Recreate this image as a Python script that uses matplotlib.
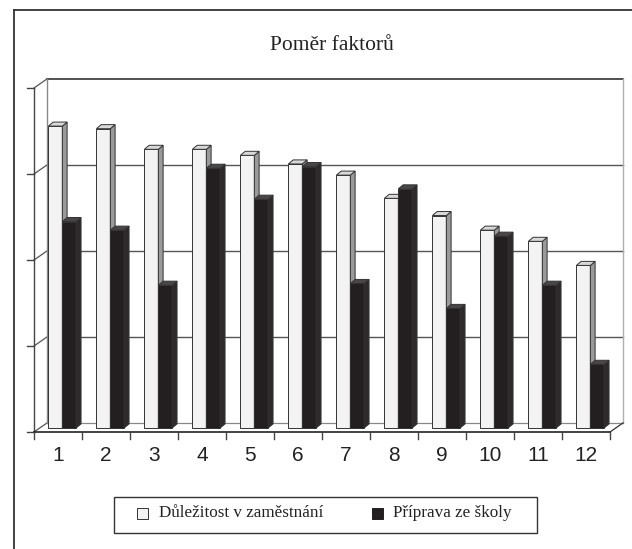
import numpy as np
import matplotlib
matplotlib.use("Agg")
import matplotlib.pyplot as plt
from matplotlib.patches import Polygon, Rectangle
from matplotlib.lines import Line2D

# Data
kategorie = ["1", "2", "3", "4", "5", "6", "7", "8", "9", "10", "11", "12"]
dulezitost = [3.51, 3.48, 3.24, 3.24, 3.17, 3.07, 2.94, 2.67, 2.47, 2.30, 2.17, 1.89]
priprava = [2.40, 2.30, 1.66, 3.02, 2.66, 3.04, 1.68, 2.78, 1.39, 2.23, 1.66, 0.74]
serie = ["Důležitost v zaměstnání", "Příprava ze školy"]

n = len(kategorie)
ymax = 4

# 3D look: wall depth, bar depth
WX, WY = 0.27, 0.105
BX, BY = 0.10, 0.047
bar_w = 0.29
bar_bottom = 0.047

W, H = 632, 549
fig = plt.figure(figsize=(W / 100, H / 100), dpi=100)
ax = fig.add_axes([24.4 / W, 1 - 466.4 / H, 604.8 / W, 395.6 / H])
ax.set_xlim(-0.2, 12.4)
ax.set_ylim(-0.4, 4.2)
ax.axis("off")

# walls and floor
ax.plot([WX, n + WX], [ymax + WY, ymax + WY], color="#333333", lw=1.2, zorder=1)
for k in range(1, ymax):
    ax.plot([WX, n + WX], [k + WY, k + WY], color="#555555", lw=1.0, zorder=1)
for k in range(0, ymax + 1):
    ax.plot([0, WX], [k, k + WY], color="#555555", lw=0.9, zorder=1)
ax.plot([WX, WX], [WY, ymax + WY], color="#888888", lw=1.0, zorder=1)
ax.plot([n + WX, n + WX], [WY, ymax + WY], color="#b0b0b0", lw=1.0, zorder=1)
ax.plot([WX, n + WX], [WY, WY], color="#888888", lw=0.9, zorder=1)
ax.plot([n, n + WX], [0, WY], color="#333333", lw=0.9, zorder=1)

# axes
ax.plot([0, 0], [0, ymax], color="#444444", lw=1.0, zorder=6)
for k in range(0, ymax + 1):
    ax.plot([-7 / 48, 0], [k, k], color="#444444", lw=1.0, zorder=6)
ax.plot([0, n], [0, 0], color="#222222", lw=1.2, zorder=6)
for i in range(n + 1):
    ax.plot([i, i], [0, -7 / 86], color="#444444", lw=1.0, zorder=6)
for i, lab in enumerate(kategorie):
    ax.text(i + 0.5, -0.27, lab, ha="center", va="center", fontsize=15,
            family="Liberation Sans", color="#222222")


def bary(x0, vals, front, side, top, z):
    x = np.arange(n) + x0
    ax.bar(x, vals, width=bar_w, bottom=bar_bottom, align="edge", color=front,
           edgecolor="#333333", linewidth=0.7, zorder=z)
    for xi, h in zip(x, vals):
        yt = bar_bottom + h
        ax.add_patch(Polygon([(xi + bar_w, bar_bottom), (xi + bar_w + BX, bar_bottom + BY),
                              (xi + bar_w + BX, yt + BY), (xi + bar_w, yt)],
                             closed=True, facecolor=side, edgecolor="#333333",
                             linewidth=0.7, zorder=z))
        ax.add_patch(Polygon([(xi, yt), (xi + BX, yt + BY), (xi + bar_w + BX, yt + BY),
                              (xi + bar_w, yt)],
                             closed=True, facecolor=top, edgecolor="#333333",
                             linewidth=0.7, zorder=z))


bary(0.30, dulezitost, "#f3f3f3", "#9a9a9a", "#d8d8d8", 3)
bary(0.59, priprava, "#231f20", "#2e2a2b", "#4a4647", 4)

# title
fig.text(332 / W, 1 - 45 / H, "Poměr faktorů", ha="center", va="center",
         fontsize=15.5, family="Liberation Serif", color="#222222")

# legend, drawn by hand in pixel positions of the figure
def px(x, y):
    return x / W, 1 - y / H

fig.add_artist(Rectangle(px(114, 533), 423 / W, 36 / H, facecolor="white",
                         edgecolor="#333333", lw=1.0, transform=fig.transFigure))
for sx, tx, fc, ec, name in [(137, 159, "#f3f3f3", "#333333", serie[0]),
                             (372, 393, "#231f20", "#231f20", serie[1])]:
    fig.add_artist(Rectangle(px(sx, 518.5), 11 / W, 11 / H, facecolor=fc,
                             edgecolor=ec, lw=0.7, transform=fig.transFigure))
    fig.text(*px(tx, 513), name, ha="left", va="center", fontsize=12.3,
             family="Liberation Serif", color="#222222")

# outer frame
fig.add_artist(Line2D([14 / W, 1], [1 - 10 / H, 1 - 10 / H], color="#333333", lw=1.3))
fig.add_artist(Line2D([14 / W, 14 / W], [0, 1 - 10 / H], color="#333333", lw=1.3))

fig.savefig("out.png", dpi=100)
